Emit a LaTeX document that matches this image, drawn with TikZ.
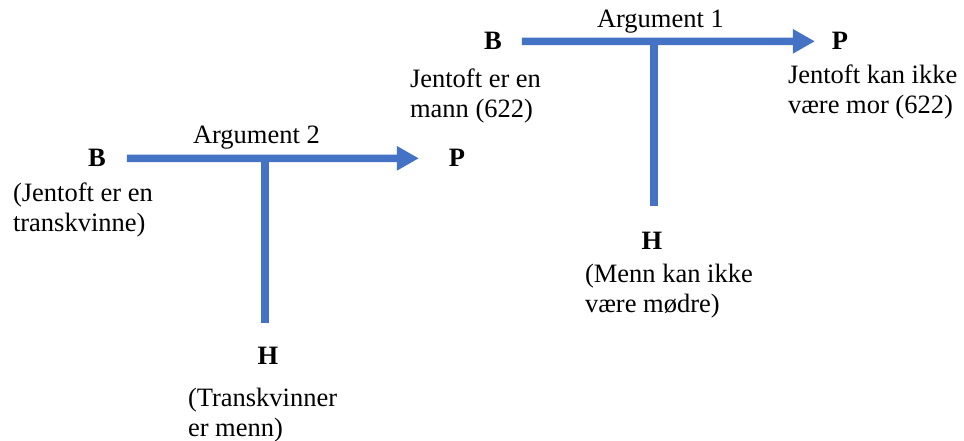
\documentclass[tikz,border=0pt]{standalone}
\usepackage{fontspec}
\setmainfont{Liberation Serif}
\usetikzlibrary{arrows.meta}
\definecolor{argblue}{HTML}{4472C4}
\begin{document}
\begin{tikzpicture}[x=1pt,y=-1pt,
  every node/.style={inner sep=0pt,outer sep=0pt,font=\fontsize{26.5}{30}\selectfont},
  lbl/.style={font=\fontsize{26.5}{30}\selectfont\bfseries,anchor=base},
  txt/.style={anchor=base west,align=left},
  arr/.style={draw=argblue,line width=7.5pt,-{Triangle[length=22pt,width=23pt]}},
  stem/.style={draw=argblue,line width=7.5pt}]
\useasboundingbox (0,0) rectangle (964,441);
% Argument 2
\node[lbl] (B2) at (97,167) {B};
\node[lbl] (P2) at (457,167) {P};
\node[txt] (T2) at (193,143) {Argument 2};
\node[lbl] (H2) at (268,364) {H};
\node[txt] (DB2) at (13,231) {(Jentoft er en\\transkvinne)};
\node[txt] (DH2) at (188,436) {(Transkvinner\\er menn)};
\draw[arr,shorten <=21pt,shorten >=30pt] (B2) -- (P2);
\coordinate (J2) at (265,158);
\draw[stem,shorten >=24pt] (J2) -- (J2 |- H2.north);
% Argument 1
\node[lbl] (B1) at (493,50) {B};
\node[lbl] (P1) at (840,50) {P};
\node[txt] (T1) at (597,28) {Argument 1};
\node[lbl] (H1) at (652,249) {H};
\node[txt] (DB1) at (410,118) {Jentoft er en\\mann (622)};
\node[txt] (DP1) at (788,114) {Jentoft kan ikke\\være mor (622)};
\node[txt] (DH1) at (585,312) {(Menn kan ikke\\være mødre)};
\draw[arr,shorten <=20pt,shorten >=17pt] (B1) -- (P1);
\coordinate (J1) at (654,41);
\draw[stem,shorten >=26pt] (J1) -- (J1 |- H1.north);
\end{tikzpicture}
\end{document}
